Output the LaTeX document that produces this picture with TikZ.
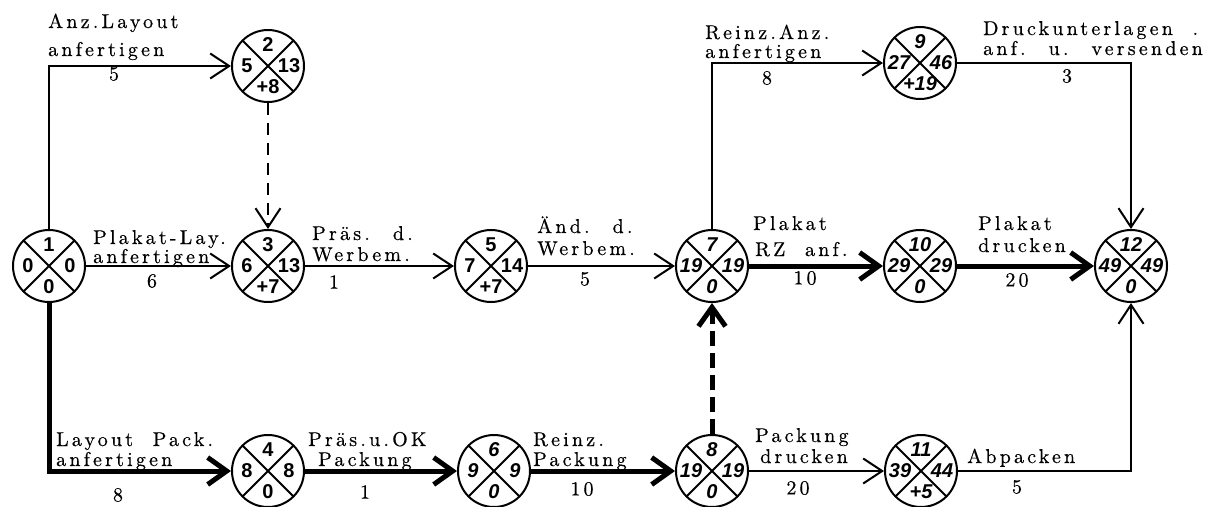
\documentclass[tikz,border=0pt]{standalone}
\usepackage{fontspec}
\usetikzlibrary{arrows.meta}
\newfontfamily\labfont{lmroman10-regular}[Extension=.otf,LetterSpace=16,WordSpace=2.0,FakeBold=0.5]
\newfontfamily\numfont{Liberation Sans}
\tikzset{
  ev/.style={circle, draw, line width=2pt, minimum size=72pt, inner sep=0pt},
  evline/.style={line width=1.8pt},
  num/.style={font=\numfont\bfseries\fontsize{20}{20}\selectfont, inner sep=0pt},
  lab/.style={font=\labfont\fontsize{20}{20}\selectfont, inner sep=0pt, anchor=base west},
  dur/.style={font=\labfont\fontsize{20}{20}\selectfont, inner sep=0pt},
  act/.style={line width=2pt, -{Straight Barb[length=19pt,width=25pt]}},
  crit/.style={line width=5pt, -{Straight Barb[length=19pt,width=27pt]}},
  dum/.style={act, dash pattern=on 12pt off 8pt},
  dumcrit/.style={crit, dash pattern=on 15pt off 7pt}
}
% name, position, top, left, right, bottom, font switch
\newcommand\ev[7]{%
  \node[ev] (#1) at (#2) {};
  \draw[evline] (#1.center) +(45:36pt) -- +(225:36pt) +(135:36pt) -- +(315:36pt);
  \node[num] (#1t) at ([yshift=21pt]#1.center) {#7#3};
  \node[num] (#1l) at ([xshift=-21pt]#1.center) {#7#4};
  \node[num] (#1r) at ([xshift=21pt]#1.center) {#7#5};
  \node[num] (#1b) at ([yshift=-21pt]#1.center) {#7#6};
}
\begin{document}
\begin{tikzpicture}[x=1pt,y=-1pt]
\useasboundingbox (0,0) rectangle (1218,506);
% events
\ev{n1}{49,266}{1}{0}{0}{0}{\upshape}
\ev{n2}{268,66}{2}{5}{13}{+8}{\upshape}
\ev{n3}{268,266}{3}{6}{13}{+7}{\upshape}
\ev{n4}{268,471}{4}{8}{8}{0}{\upshape}
\ev{n5}{491,266}{5}{7}{14}{+7}{\upshape}
\ev{n6}{494,471}{6}{9}{9}{0}{\itshape}
\ev{n7}{712,266}{7}{19}{19}{0}{\itshape}
\ev{n8}{712,471}{8}{19}{19}{0}{\itshape}
\ev{n9}{920,63}{9}{27}{46}{+19}{\itshape}
\ev{n10}{920,266}{10}{29}{29}{0}{\itshape}
\ev{n11}{921,471}{11}{39}{44}{+5}{\itshape}
\ev{n12}{1131,266}{12}{49}{49}{0}{\itshape}
% activities
\draw[act] (n1) |- (n2);
\draw[act] (n1) -- (n3);
\draw[crit] (n1) |- (n4);
\draw[dum] (n2) -- (n3);
\draw[act] (n3) -- (n5);
\draw[act] (n5) -- (n7);
\draw[crit] (n4) -- (n6);
\draw[crit] (n6) -- (n8);
\draw[dumcrit] (n8) -- (n7);
\draw[act] (n7) |- (n9);
\draw[act] (n9) -| (n12);
\draw[crit] (n7) -- (n10);
\draw[crit] (n10) -- (n12);
\draw[act] (n8) -- (n11);
\draw[act] (n11) -| (n12);
% labels
\node[lab] (a1) at (48,28) {Anz.Layout};
\node[lab] (a2) at (48,56) {anfertigen};
\node[dur] (a3) at (114,74) {5};
\node[lab] (b1) at (93,244) {Plakat-Lay.};
\node[lab] (b2) at (93,263) {anfertigen};
\node[dur] (b3) at (152,281) {6};
\node[lab] (c1) at (312,240) {Präs. d.};
\node[lab] (c2) at (312,261) {Werbem.};
\node[dur] (c3) at (334,282) {1};
\node[lab] (d1) at (537,233) {Änd. d.};
\node[lab] (d2) at (537,255) {Werbem.};
\node[dur] (d3) at (585,279) {5};
\node[lab] (e1) at (753,230) {Plakat};
\node[lab] (e2) at (755,256) {RZ anf.};
\node[dur] (e3) at (805,278) {10};
\node[lab] (f1) at (978,230) {Plakat};
\node[lab] (f2) at (978,252) {drucken};
\node[dur] (f3) at (1017,280) {20};
\node[lab] (g1) at (705,39) {Reinz.Anz.};
\node[lab] (g2) at (705,58) {anfertigen};
\node[dur] (g3) at (767,78) {8};
\node[lab] (h1) at (983,35) {Druckunterlagen .};
\node[lab] (h2) at (983,55) {anf. u. versenden};
\node[dur] (h3) at (1067,76) {3};
\node[lab] (i1) at (56,446) {Layout Pack.};
\node[lab] (i2) at (56,466) {anfertigen};
\node[dur] (i3) at (118,495) {8};
\node[lab] (j1) at (308,446) {Präs.u.OK};
\node[lab] (j2) at (318,466) {Packung};
\node[dur] (j3) at (365,492) {1};
\node[lab] (k1) at (533,446) {Reinz.};
\node[lab] (k2) at (533,466) {Packung};
\node[dur] (k3) at (582,489) {10};
\node[lab] (m1) at (755,442) {Packung};
\node[lab] (m2) at (760,463) {drucken};
\node[dur] (m3) at (798,488) {20};
\node[lab] (p1) at (967,463) {Abpacken};
\node[dur] (p3) at (1017,487) {5};
\end{tikzpicture}
\end{document}
